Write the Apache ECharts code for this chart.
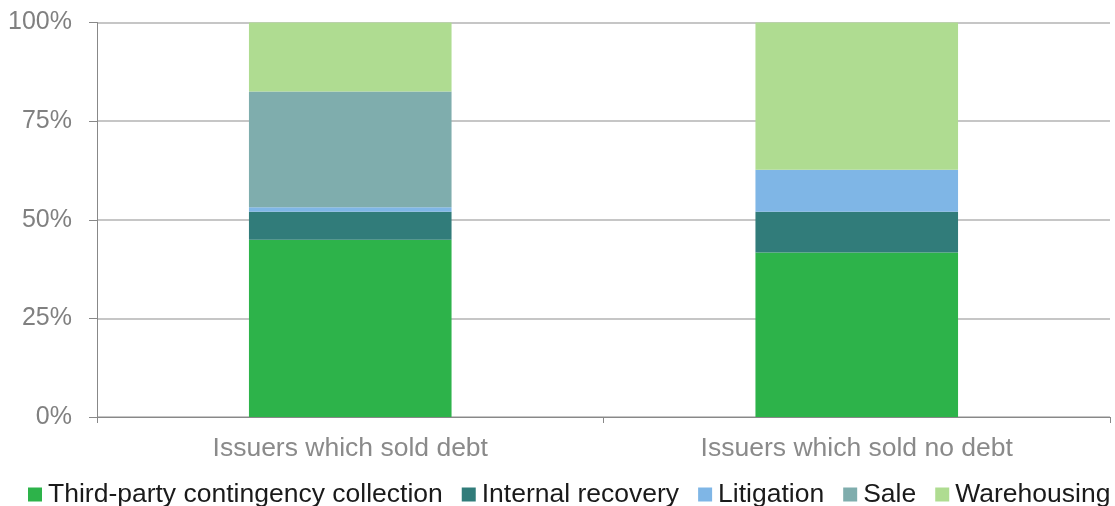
<!DOCTYPE html>
<html><head><meta charset="utf-8">
<script src="https://cdn.jsdelivr.net/npm/echarts@6/dist/echarts.min.js"></script>
<style>html,body{margin:0;padding:0;background:#fff}#c{width:1115px;height:506px}</style>
</head><body><div id="c"></div>
<script>
const categories = ["Issuers which sold debt", "Issuers which sold no debt"];
const seriesNames = ["Third-party contingency collection", "Internal recovery", "Litigation", "Sale", "Warehousing"];
const thirdParty = [44.9, 41.7];
const internalRecovery = [7.1, 10.3];
const litigation = [1.2, 10.7];
const sale = [29.3, 0];
const warehousing = [17.5, 37.3];
const colors = ["#2db34a", "#317c7a", "#7fb6e6", "#7fadad", "#afdc91"];
const values = [thirdParty, internalRecovery, litigation, sale, warehousing];

const chart = echarts.init(document.getElementById('c'));
chart.setOption({
  animation: false,
  textStyle: {fontFamily: "Liberation Sans, Arial, sans-serif"},
  grid: {left: 97, right: 5, top: 22.5, bottom: 89, containLabel: false},
  legend: {
    top: 481, left: 23, padding: [0, 0, 0, 5],
    itemWidth: 14, itemHeight: 14, itemGap: 19,
    icon: 'rect',
    textStyle: {fontSize: 26.5, color: '#1a1a1a', fontFamily: "Liberation Sans, Arial, sans-serif", padding: [0,0,0,1]},
    data: seriesNames
  },
  xAxis: {
    type: 'category', data: categories,
    axisLine: {lineStyle: {color: '#888', width: 1}},
    axisTick: {show: true, length: 6, lineStyle: {color: '#888'}},
    axisLabel: {fontSize: 26.5, color: '#8a8a8a', margin: 18}
  },
  yAxis: {
    type: 'value', min: 0, max: 100, interval: 25,
    axisLine: {show: true, lineStyle: {color: '#888'}},
    axisTick: {show: true, length: 8, lineStyle: {color: '#888'}},
    axisLabel: {fontSize: 25, color: '#808080', margin: 25, formatter: '{value}%'},
    splitLine: {lineStyle: {color: '#b3b3b3', width: 1.5}}
  },
  series: seriesNames.map((n, i) => ({
    name: n, type: 'bar', stack: 'total', barWidth: '40%',
    itemStyle: {color: colors[i]},
    data: values[i]
  }))
});
</script></body></html>
